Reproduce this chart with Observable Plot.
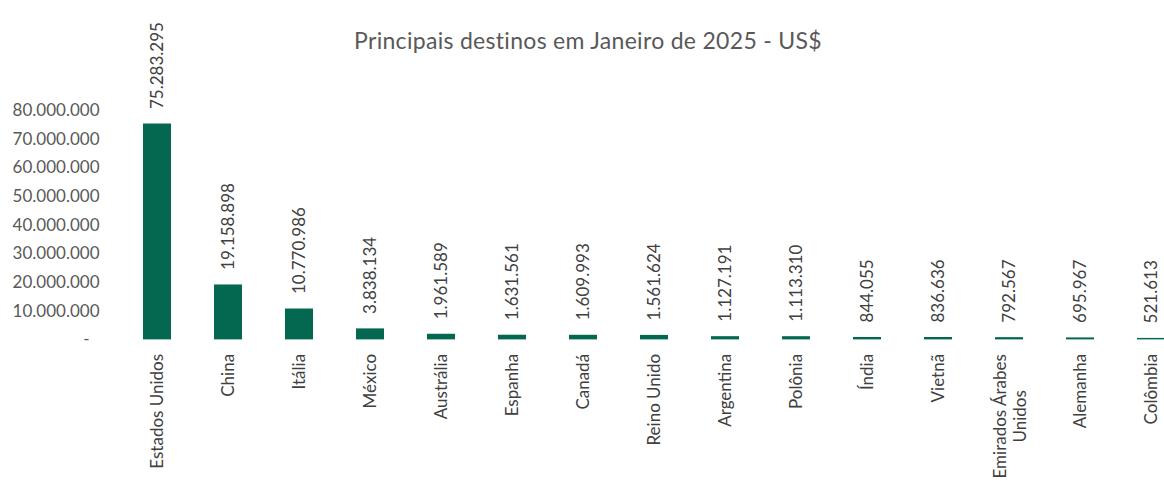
<!DOCTYPE html>
<html>
<head>
<meta charset="utf-8">
<script src="https://cdn.jsdelivr.net/npm/d3@7"></script>
<script src="https://cdn.jsdelivr.net/npm/@observablehq/plot@0.6"></script>
<style>
  html, body { margin: 0; padding: 0; background: #ffffff; }
  #wrap { position: relative; width: 1164px; height: 481px; overflow: hidden; }
  #title { position: absolute; top: 26px; left: 6px; width: 1164px; text-align: center;
           font-family: Lato, "Open Sans", sans-serif; font-size: 23px; letter-spacing: 0.3px; color: #595959; margin: 0; font-weight: normal; }
</style>
</head>
<body>
<div id="wrap">
  <div id="chart"></div>
  <div id="title">Principais destinos em Janeiro de 2025 - US$</div>
</div>
<script>
const titleText = "Principais destinos em Janeiro de 2025 - US$";
const categories = ["Estados Unidos","China","Itália","México","Austrália","Espanha","Canadá","Reino Unido","Argentina","Polônia","Índia","Vietnã","Emirados Árabes Unidos","Alemanha","Colômbia"];
const categoryLabels = ["Estados Unidos","China","Itália","México","Austrália","Espanha","Canadá","Reino Unido","Argentina","Polônia","Índia","Vietnã","Emirados Árabes\nUnidos","Alemanha","Colômbia"];
const values = [75283295,19158898,10770986,3838134,1961589,1631561,1609993,1561624,1127191,1113310,844055,836636,792567,695967,521613];
const yTicks = [0,10000000,20000000,30000000,40000000,50000000,60000000,70000000,80000000];

const data = categories.map((c, i) => ({cat: c, label: categoryLabels[i], value: values[i]}));
const loc = d3.formatLocale({decimal: ",", thousands: ".", grouping: [3], currency: ["US$", ""]});
const fmt = loc.format(",d");
const FONT = "Lato, 'Open Sans', sans-serif";

// measure first line of multi-line labels to center both lines
const ctx = document.createElement("canvas").getContext("2d");
ctx.font = "17px Lato";
const multi = data.filter(d => d.label.includes("\n"));
const single = data.filter(d => !d.label.includes("\n"));
const firstLineW = multi.length ? ctx.measureText(multi[0].label.split("\n")[0]).width : 0;

const chart = Plot.plot({
  width: 1164,
  height: 481,
  marginTop: 110,
  marginBottom: 141.6,
  marginLeft: 120,
  marginRight: -23,
  style: {fontFamily: FONT, fontSize: "17px", color: "#595959", background: "#ffffff", overflow: "visible"},
  x: {domain: categories, paddingInner: 0.61, paddingOuter: 0.305, axis: null},
  y: {domain: [0, 80000000], axis: null},
  marks: [
    Plot.barY(data, {x: "cat", y: "value", fill: "#03684F"}),
    Plot.axisY({ticks: yTicks, label: null, tickSize: 0, tickPadding: 21, fontSize: 17, fill: "#595959",
      tickFormat: d => d === 0 ? "-\u2007" : fmt(d)}),
    Plot.text(data, {x: "cat", y: "value", text: d => fmt(d.value), rotate: -90, textAnchor: "start",
      lineAnchor: "middle", dy: -15, fontSize: 17, fill: "#404040"}),
    Plot.text(single, {x: "cat", y: () => 0, text: "label", rotate: -90, textAnchor: "end",
      lineAnchor: "middle", dy: 14, fontSize: 17, fill: "#404040"}),
    Plot.text(multi, {x: "cat", y: () => 0, text: "label", rotate: -90, textAnchor: "middle",
      lineAnchor: "middle", lineHeight: 1.2, dy: 14 + firstLineW / 2, fontSize: 17, fill: "#404040"})
  ]
});
document.getElementById("chart").appendChild(chart);
</script>
</body>
</html>
